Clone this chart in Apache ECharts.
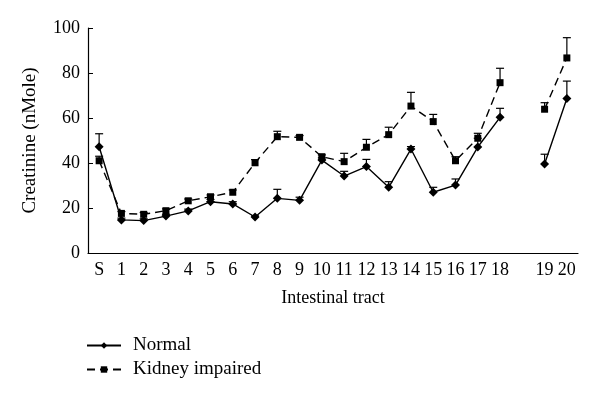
<!DOCTYPE html>
<html>
<head>
<meta charset="utf-8">
<script src="https://cdn.jsdelivr.net/npm/echarts@6/dist/echarts.min.js"></script>
<style>
  html, body { margin: 0; padding: 0; background: #fff; }
  #chart { width: 600px; height: 399px; }
</style>
</head>
<body>
<div id="chart"></div>
<script>
// categories along the intestinal tract ('' = empty slot before 19)
var categories = ['S', '1', '2', '3', '4', '5', '6', '7', '8', '9', '10', '11', '12', '13', '14', '15', '16', '17', '18', '', '19', '20'];

// Normal (diamonds, solid line)
var normalVals = [47.2, 14.7, 14.4, 16.4, 18.7, 22.8, 21.8, 16, 24.3, 23.4, 41.3, 34.2, 38.4, 29.2, 46.2, 27, 30.2, 47.1, 60.3, null, 39.6, 68.7];
var normalErr  = [53, 15.5, 15.2, 17.2, 19.5, 23.8, 22.8, 16.5, 28.3, 24.8, 42.3, 36.3, 41.6, 31.7, 47.3, 29.2, 32.9, 51, 64.3, null, 43.9, 76.4];

// Kidney impaired (squares, dashed line)
var kidneyVals = [41, 17.6, 17.2, 18.8, 23.2, 25, 27, 40.1, 51.7, 51.4, 42.8, 40.6, 47, 52.6, 65.3, 58.4, 41, 51, 75.7, null, 63.9, 86.7];
var kidneyErr  = [43, 18.4, 18.0, 19.6, 24.0, 25.8, 28, 41.5, 54.1, 52.2, 43.6, 44.3, 50.5, 55.9, 71.4, 61.6, 42.8, 53.2, 82.1, null, 66.8, 95.7];

var yTicks = [0, 20, 40, 60, 80, 100];

var chart = echarts.init(document.getElementById('chart'));

function errData(vals, errs) {
    var out = [];
    for (var i = 0; i < vals.length; i++) {
        if (vals[i] != null) out.push([i, vals[i], errs[i]]);
    }
    return out;
}

function renderErr(params, api) {
    var p0 = api.coord([api.value(0), api.value(1)]);
    var p1 = api.coord([api.value(0), api.value(2)]);
    var w = 4;
    var st = { stroke: '#000', lineWidth: 1.2 };
    return {
        type: 'group',
        children: [
            { type: 'line', shape: { x1: p0[0], y1: p0[1], x2: p1[0], y2: p1[1] }, style: st },
            { type: 'line', shape: { x1: p1[0] - w, y1: p1[1], x2: p1[0] + w, y2: p1[1] }, style: st }
        ]
    };
}

var font = 'Liberation Serif';

var option = {
    animation: false,
    textStyle: { fontFamily: font, color: '#000' },
    grid: { left: 88, right: 22, top: 28, bottom: 146 },
    legend: {
        data: ['Normal', 'Kidney impaired'],
        orient: 'vertical',
        left: 81,
        top: 331,
        itemWidth: 34,
        itemHeight: 8,
        itemGap: 5,
        textStyle: { fontFamily: font, fontSize: 19, color: '#000', padding: [0, 0, 0, 7] }
    },
    xAxis: {
        type: 'category',
        data: categories,
        name: 'Intestinal tract',
        nameLocation: 'middle',
        nameGap: 36,
        nameTextStyle: { fontFamily: font, fontSize: 18, color: '#000' },
        axisLine: { lineStyle: { color: '#000', width: 1.2 } },
        axisTick: { inside: true, length: 5, interval: 0, lineStyle: { color: '#000' } },
        axisLabel: { interval: 0, fontFamily: font, fontSize: 18, color: '#000', margin: 8 },
        splitLine: { show: false }
    },
    yAxis: {
        type: 'value',
        min: yTicks[0],
        max: yTicks[yTicks.length - 1],
        interval: 20,
        name: 'Creatinine (nMole)',
        nameLocation: 'middle',
        nameGap: 48,
        nameTextStyle: { fontFamily: font, fontSize: 19, color: '#000' },
        axisLine: { show: true, lineStyle: { color: '#000', width: 1.2 } },
        axisTick: { show: true, inside: true, length: 5, lineStyle: { color: '#000' } },
        axisLabel: { fontFamily: font, fontSize: 18, color: '#000', margin: 8 },
        splitLine: { show: false }
    },
    series: [
        {
            name: 'Normal',
            type: 'line',
            data: normalVals,
            connectNulls: false,
            symbol: 'diamond',
            symbolSize: 9,
            itemStyle: { color: '#000' },
            lineStyle: { color: '#000', width: 1.4 },
            z: 3
        },
        {
            name: 'Kidney impaired',
            type: 'line',
            data: kidneyVals,
            connectNulls: false,
            symbol: 'rect',
            symbolSize: 7,
            itemStyle: { color: '#000' },
            lineStyle: { color: '#000', width: 1.4, type: [8, 5] },
            z: 3
        },
        {
            type: 'custom',
            renderItem: renderErr,
            data: errData(normalVals, normalErr),
            encode: { x: 0, y: [1, 2] },
            z: 2
        },
        {
            type: 'custom',
            renderItem: renderErr,
            data: errData(kidneyVals, kidneyErr),
            encode: { x: 0, y: [1, 2] },
            z: 2
        }
    ]
};

chart.setOption(option);
</script>
</body>
</html>
